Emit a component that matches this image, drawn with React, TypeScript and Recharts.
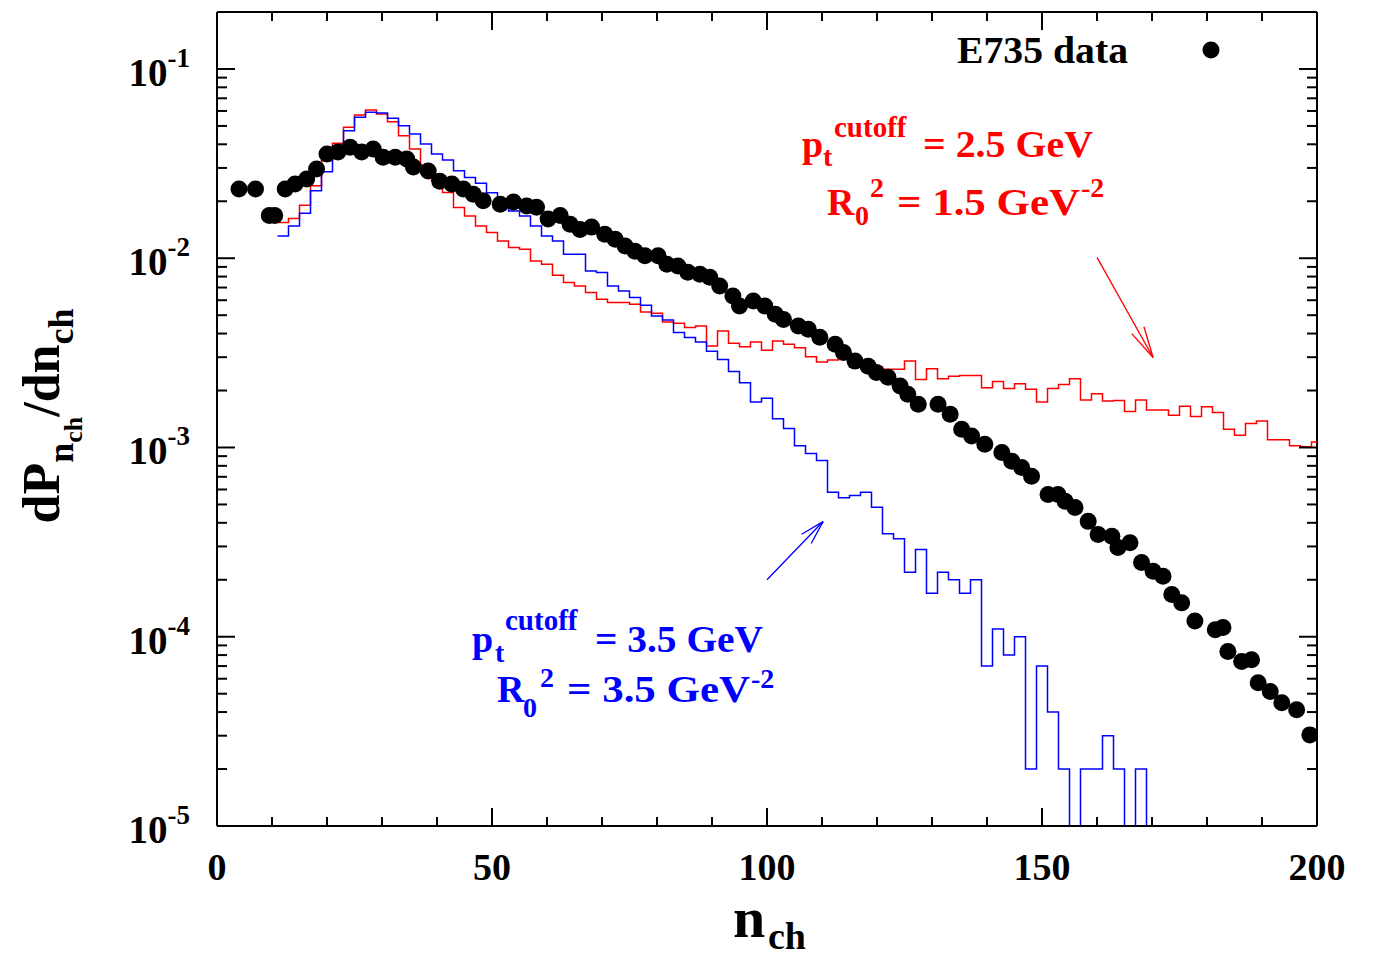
import React from 'react';
import { ComposedChart, Line, Scatter, XAxis, YAxis, ReferenceLine } from 'recharts';

const FONT = '"Liberation Serif", "Times New Roman", Times, serif';

// E735 data points
const e735N = [4, 7, 9.5, 10.5, 12.4, 14.2, 16.3, 18.1, 20, 22, 24.2, 26.3, 28.4, 30.2, 32.4, 34.5, 35.7, 38.4, 40.5, 42.7, 44.8, 46.6, 48.4, 51.5, 53.9, 56.3, 58.1, 60.2, 62.4, 64.2, 66, 68.1, 70.5, 72.4, 74.2, 76, 77.8, 80.2, 81.8, 83.8, 85.6, 87.8, 89.6, 91.4, 93.8, 95, 97.5, 99.6, 101.5, 103, 105.7, 107.5, 109.6, 112.4, 113.9, 116, 118.4, 119.9, 122, 124.2, 125.6, 127.5, 131.1, 133.3, 135.4, 137.2, 139.6, 142.7, 144.5, 146.3, 148.1, 151.1, 152.9, 154.2, 156, 158.4, 160.2, 162.7, 163.8, 166, 168.1, 170.2, 172, 173.6, 175.4, 177.8, 181.5, 182.9, 183.8, 186.3, 188.1, 189.3, 191.5, 193.6, 196.3, 198.7];
const e735V = [0.0232, 0.0232, 0.0168, 0.0168, 0.0232, 0.0247, 0.0262, 0.0296, 0.0355, 0.0364, 0.0386, 0.0364, 0.0378, 0.0342, 0.0342, 0.0334, 0.0303, 0.0289, 0.0255, 0.0247, 0.0232, 0.0218, 0.0201, 0.0193, 0.0198, 0.0189, 0.0186, 0.0161, 0.0168, 0.0151, 0.0142, 0.0146, 0.0134, 0.0126, 0.0116, 0.0109, 0.0103, 0.0103, 0.00929, 0.0091, 0.00843, 0.00822, 0.00793, 0.00713, 0.00632, 0.0056, 0.00594, 0.0056, 0.00506, 0.00475, 0.00438, 0.00421, 0.00382, 0.00351, 0.00318, 0.00286, 0.00269, 0.00249, 0.00235, 0.00211, 0.00191, 0.00169, 0.00169, 0.0015, 0.00125, 0.00115, 0.00104, 0.000941, 0.000847, 0.000784, 0.000705, 0.000564, 0.000564, 0.00052, 0.000482, 0.000407, 0.000347, 0.00034, 0.000296, 0.000314, 0.000247, 0.000222, 0.000209, 0.000167, 0.000151, 0.000121, 0.000109, 0.000112, 0.0000836, 0.000074, 0.0000755, 0.0000571, 0.0000514, 0.0000448, 0.0000411, 0.0000303];

// Histograms (bin width 2, first bin edge at n = 11)
const binWidth = 2;
const redFirstEdge = 11;
const redValues = [0.01545, 0.01622, 0.01907, 0.02413, 0.03271, 0.04045, 0.04914, 0.05709, 0.06068, 0.05779, 0.05261, 0.04437, 0.03774, 0.03105, 0.02565, 0.02227, 0.01854, 0.01674, 0.01482, 0.01368, 0.01234, 0.01139, 0.01116, 0.00968, 0.0093, 0.00813, 0.00744, 0.00714, 0.00659, 0.00607, 0.00583, 0.00583, 0.00571, 0.0052, 0.00512, 0.0046, 0.00453, 0.0043, 0.00438, 0.00344, 0.00412, 0.00355, 0.00341, 0.00361, 0.00326, 0.00365, 0.00351, 0.00337, 0.00302, 0.00283, 0.0029, 0.00311, 0.00267, 0.00272, 0.00267, 0.00259, 0.00259, 0.00286, 0.00229, 0.00261, 0.00231, 0.00238, 0.0024, 0.0024, 0.00207, 0.00223, 0.00205, 0.00217, 0.00203, 0.00174, 0.00205, 0.00215, 0.00231, 0.00178, 0.00192, 0.00176, 0.00177, 0.00155, 0.00178, 0.00158, 0.00158, 0.00148, 0.00165, 0.00146, 0.00164, 0.00153, 0.00125, 0.00116, 0.00134, 0.00138, 0.0011, 0.0011, 0.00102, 0.00101, 0.00107];
const blueFirstEdge = 11;
const blueValues = [0.01312, 0.01482, 0.0173, 0.02271, 0.02862, 0.03929, 0.04715, 0.05551, 0.059, 0.0585, 0.05484, 0.05012, 0.0453, 0.04012, 0.03551, 0.033, 0.02897, 0.02673, 0.02487, 0.02216, 0.02032, 0.01779, 0.01674, 0.01482, 0.01312, 0.01234, 0.0105, 0.0105, 0.00857, 0.0084, 0.00714, 0.00672, 0.0062, 0.00564, 0.00495, 0.00472, 0.00405, 0.00381, 0.00361, 0.00322, 0.00292, 0.00252, 0.0022, 0.00174, 0.00182, 0.00142, 0.00126, 0.00102, 0.00093, 0.000853, 0.00058, 0.000542, 0.000557, 0.00058, 0.000483, 0.00035, 0.000329, 0.000219, 0.000289, 0.00017, 0.000219, 0.0002, 0.00017, 0.0002, 0.00007, 0.00011, 0.00008, 0.0001, 0.00002, 0.00007, 0.00004, 0.00002, 0.00001, 0.00002, 0.00002, 0.00003, 0.00002, 0.00001, 0.00002, 0.00001, 0.00001, 0.00001];

// Axes
const xDomain = [0, 200];
const xTicks = [0, 10, 20, 30, 40, 50, 60, 70, 80, 90, 100, 110, 120, 130, 140, 150, 160, 170, 180, 190, 200];
const xMajorTicks = [0, 50, 100, 150, 200];
const yDomain = [1e-5, 0.2];
const yDecades = [-5, -4, -3, -2, -1];
const yMantissas = [1, 2, 3, 4, 5, 6, 7, 8, 9];

// Annotation arrows (data coordinates)
const redArrow = [{ x: 160, y: 0.0101 }, { x: 170.2, y: 0.00299 }];
const blueArrow = [{ x: 100, y: 0.0002 }, { x: 110.2, y: 0.000406 }];

const yTicks: number[] = [];
yDecades.forEach((e) => {
  yMantissas.forEach((m) => {
    const v = m * Math.pow(10, e);
    if (v <= 0.1 + 1e-12) yTicks.push(v);
  });
});

const toSteps = (firstEdge: number, vals: number[]) => {
  const pts = vals.map((v, i) => ({ n: firstEdge + i * binWidth, v }));
  pts.push({ n: firstEdge + vals.length * binWidth, v: vals[vals.length - 1] });
  return pts;
};
const redData = toSteps(redFirstEdge, redValues);
const blueData = toSteps(blueFirstEdge, blueValues);
const e735Data = e735N.map((n, i) => ({ n, v: e735V[i] }));

const CHART_W = 1362;
const CHART_H = 949;
const PLOT_LEFT = 209;
const PLOT_TOP = 4;
const PLOT_W = 1100;
const PLOT_H = 814;

const XTick = (props: any) => {
  const { x, y, payload } = props;
  const major = xMajorTicks.includes(payload.value);
  const len = major ? 18 : 9;
  return (
    <g>
      <line x1={x} y1={y} x2={x} y2={y - len} stroke="#000" strokeWidth={2} />
      <line x1={x} y1={y - PLOT_H} x2={x} y2={y - PLOT_H + len} stroke="#000" strokeWidth={2} />
      {major && (
        <text x={x} y={y + 54} textAnchor="middle" fontFamily={FONT} fontWeight="bold" fontSize={38} fill="#000">
          {payload.value}
        </text>
      )}
    </g>
  );
};

const YTick = (props: any) => {
  const { x, y, payload } = props;
  const lg = Math.log10(payload.value);
  const major = Math.abs(lg - Math.round(lg)) < 1e-6;
  const len = major ? 18 : 10;
  return (
    <g>
      <line x1={x} y1={y} x2={x + len} y2={y} stroke="#000" strokeWidth={2} />
      <line x1={x + PLOT_W} y1={y} x2={x + PLOT_W - len} y2={y} stroke="#000" strokeWidth={2} />
      {major && (
        <text x={x - 27} y={y + 17} textAnchor="end" fontFamily={FONT} fontWeight="bold" fontSize={39} fill="#000">
          <tspan>10</tspan>
          <tspan dy={-19} fontSize={27}>{String(Math.round(lg))}</tspan>
        </text>
      )}
    </g>
  );
};

const makeArrow = (len: number, half: number) => (props: any) => {
  const { x1, y1, x2, y2, stroke } = props;
  const ang = Math.atan2(y2 - y1, x2 - x1);
  const ax = x2 - len * Math.cos(ang - half);
  const ay = y2 - len * Math.sin(ang - half);
  const bx = x2 - len * Math.cos(ang + half);
  const by = y2 - len * Math.sin(ang + half);
  return (
    <g>
      <line x1={x1} y1={y1} x2={x2} y2={y2} stroke={stroke} strokeWidth={1.3} />
      <line x1={ax} y1={ay} x2={x2} y2={y2} stroke={stroke} strokeWidth={1.3} />
      <line x1={bx} y1={by} x2={x2} y2={y2} stroke={stroke} strokeWidth={1.3} />
    </g>
  );
};

const Dot = (props: any) => <circle cx={props.cx} cy={props.cy} r={8.5} fill="#000" />;

const txt = { fontFamily: FONT, fontWeight: 'bold' as const };

export default function App() {
  return (
    <div style={{ position: 'relative', width: CHART_W, height: CHART_H }}>
      <ComposedChart width={CHART_W} height={CHART_H} margin={{ top: PLOT_TOP, right: CHART_W - PLOT_LEFT - PLOT_W, left: 0, bottom: 0 }}>
        <XAxis
          dataKey="n"
          type="number"
          domain={xDomain}
          ticks={xTicks}
          interval={0}
          allowDataOverflow
          height={CHART_H - PLOT_TOP - PLOT_H}
          tickSize={0}
          tickMargin={0}
          tickLine={false}
          tick={<XTick />}
          axisLine={{ stroke: '#000', strokeWidth: 2 }}
        />
        <YAxis
          type="number"
          scale="log"
          domain={yDomain}
          ticks={yTicks}
          interval={0}
          allowDataOverflow
          width={PLOT_LEFT}
          tickSize={0}
          tickMargin={0}
          tickLine={false}
          tick={<YTick />}
          axisLine={{ stroke: '#000', strokeWidth: 2 }}
        />
        <ReferenceLine x={200} stroke="#000" strokeWidth={2} />
        <ReferenceLine y={0.2} stroke="#000" strokeWidth={2} />
        <Line data={redData} dataKey="v" type="stepAfter" stroke="#ff0000" strokeWidth={1.5} dot={false} isAnimationActive={false} />
        <Line data={blueData} dataKey="v" type="stepAfter" stroke="#0000ff" strokeWidth={1.5} dot={false} isAnimationActive={false} />
        <Scatter data={e735Data} dataKey="v" fill="#000" shape={<Dot />} isAnimationActive={false} />
        <ReferenceLine segment={redArrow} stroke="#ff0000" ifOverflow="visible" shape={makeArrow(32, 0.22)} />
        <ReferenceLine segment={blueArrow} stroke="#0000ff" ifOverflow="visible" shape={makeArrow(25, 0.27)} />
      </ComposedChart>
      <svg width={CHART_W} height={CHART_H} style={{ position: 'absolute', left: 0, top: 0, pointerEvents: 'none' }}>
        {/* legend */}
        <text x={949} y={55} fontSize={38} fill="#000" textLength={171} lengthAdjust="spacingAndGlyphs" {...txt}>E735 data</text>
        <circle cx={1203} cy={42} r={8.5} fill="#000" />
        {/* red annotation */}
        <g fill="#ff0000" {...txt}>
          <text x={794} y={149} fontSize={38}>p</text>
          <text x={815} y={158} fontSize={28}>t</text>
          <text x={826} y={129} fontSize={29}>cutoff</text>
          <text x={915} y={149} fontSize={38} textLength={170} lengthAdjust="spacingAndGlyphs">= 2.5 GeV</text>
          <text x={819} y={207} fontSize={38}>R</text>
          <text x={847} y={217} fontSize={28}>0</text>
          <text x={862} y={189} fontSize={28}>2</text>
          <text x={889} y={207} fontSize={38} textLength={183} lengthAdjust="spacingAndGlyphs">= 1.5 GeV</text>
          <text x={1073} y={189} fontSize={28}>-2</text>
        </g>
        {/* blue annotation */}
        <g fill="#0000ff" {...txt}>
          <text x={464} y={644} fontSize={38}>p</text>
          <text x={487} y={654} fontSize={28}>t</text>
          <text x={497} y={622} fontSize={29}>cutoff</text>
          <text x={587} y={644} fontSize={38} textLength={168} lengthAdjust="spacingAndGlyphs">= 3.5 GeV</text>
          <text x={489} y={694} fontSize={38}>R</text>
          <text x={515} y={709} fontSize={28}>0</text>
          <text x={532} y={679} fontSize={28}>2</text>
          <text x={559} y={694} fontSize={38} textLength={183} lengthAdjust="spacingAndGlyphs">= 3.5 GeV</text>
          <text x={743} y={680} fontSize={28}>-2</text>
        </g>
        {/* axis titles */}
        <g fill="#000" {...txt}>
          <text x={725} y={929} fontSize={58}>n</text>
          <text x={760} y={941} fontSize={38}>ch</text>
          <text transform="translate(51,408) rotate(-90)" textAnchor="middle" fontSize={52}>
            dP<tspan fontSize={36} dy={14}>n</tspan><tspan fontSize={26} dy={9}>ch</tspan><tspan fontSize={52} dy={-23}>/dn</tspan><tspan fontSize={36} dy={14}>ch</tspan>
          </text>
        </g>
      </svg>
    </div>
  );
}
